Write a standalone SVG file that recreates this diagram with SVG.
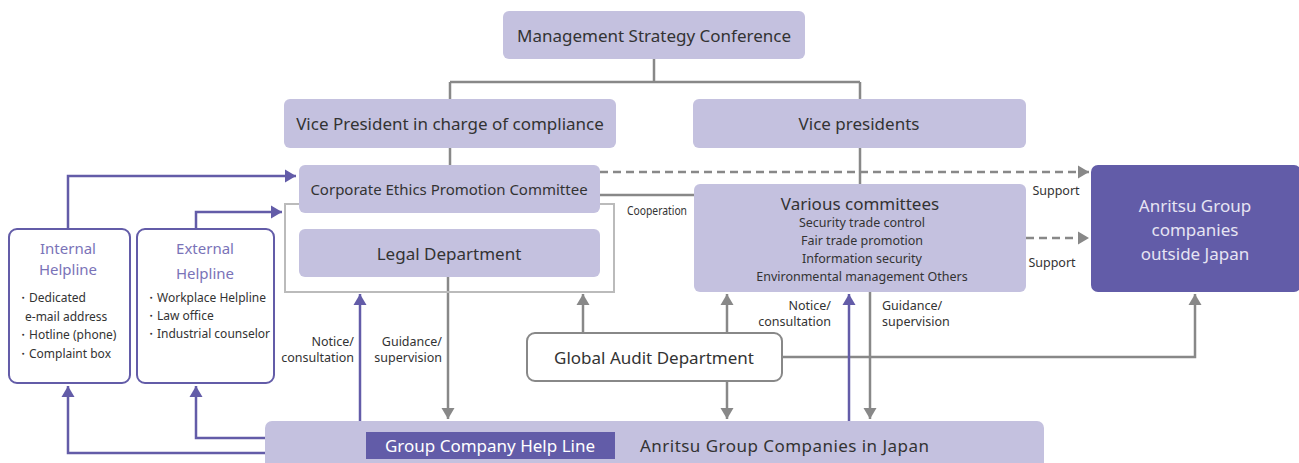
<svg xmlns="http://www.w3.org/2000/svg" width="1299" height="463" viewBox="0 0 1299 463">
<style>
.box{fill:#c4c1df}
.dark{fill:#625ca8}
.t{font-family:"Noto Sans","Liberation Sans",sans-serif;fill:#333;text-anchor:middle}
.big{font-size:17px}
.mid{font-size:15px}
.sm{font-size:12.5px}
.lbl{font-family:"Noto Sans","Liberation Sans",sans-serif;fill:#333;font-size:12.5px}
.g{stroke:#888;stroke-width:2.5;fill:none}
.p{stroke:#635ca8;stroke-width:2.5;fill:none}
.d{stroke:#888;stroke-width:2.5;fill:none;stroke-dasharray:8 5}
.hb{fill:#fff;stroke:#635ca8;stroke-width:2}
.ht{font-family:"Noto Sans","Liberation Sans",sans-serif;fill:#7a73b8;font-size:15px;text-anchor:middle}
.bl{font-family:"Noto Sans","Liberation Sans",sans-serif;fill:#333;font-size:12px}
</style>
<defs>
<marker id="ag" markerUnits="userSpaceOnUse" markerWidth="14" markerHeight="14" refX="11" refY="7" orient="auto"><path d="M0,0.5 L11,7 L0,13.5 z" fill="#888"/></marker>
<marker id="ap" markerUnits="userSpaceOnUse" markerWidth="14" markerHeight="14" refX="11" refY="7" orient="auto"><path d="M0,0.5 L11,7 L0,13.5 z" fill="#635ca8"/></marker>
</defs>

<g id="connectors">
<path class="g" d="M654,59 V82 M450,82 H860 M450,82 V99 M860,82 V99 M450,148 V165 M860,148 V184"/>
<path class="g" d="M600,195 H694"/>
<text class="lbl" x="627" y="215" font-size="12" textLength="60" lengthAdjust="spacingAndGlyphs">Cooperation</text>
<path class="d" d="M600,172 H1089" marker-end="url(#ag)"/>
<text class="lbl" x="1056" y="195" text-anchor="middle">Support</text>
<path class="d" d="M1026,238 H1089" marker-end="url(#ag)"/>
<text class="lbl" x="1052" y="267" text-anchor="middle">Support</text>
<path class="g" d="M782,357 H1195 V294" marker-end="url(#ag)"/>
<path class="g" d="M583,333 V294" marker-end="url(#ag)"/>
<path class="g" d="M727,333 V294" marker-end="url(#ag)"/>
<path class="g" d="M727,381 V419" marker-end="url(#ag)"/>
<path class="g" d="M448,277 V419" marker-end="url(#ag)"/>
<path class="p" d="M360,421 V294" marker-end="url(#ap)"/>
<text class="lbl" x="354" y="346" text-anchor="end">Notice/</text>
<text class="lbl" x="354" y="362" text-anchor="end">consultation</text>
<text class="lbl" x="442" y="346" text-anchor="end">Guidance/</text>
<text class="lbl" x="442" y="362" text-anchor="end">supervision</text>
<path class="p" d="M849,421 V294" marker-end="url(#ap)"/>
<path class="g" d="M870,292 V419" marker-end="url(#ag)"/>
<text class="lbl" x="831" y="310" text-anchor="end">Notice/</text>
<text class="lbl" x="831" y="326" text-anchor="end">consultation</text>
<text class="lbl" x="882" y="310">Guidance/</text>
<text class="lbl" x="882" y="326">supervision</text>
<path class="p" d="M68,229 V176 H296" marker-end="url(#ap)"/>
<path class="p" d="M196,229 V212 H282" marker-end="url(#ap)"/>
<path class="p" d="M265,438 H196 V386" marker-end="url(#ap)"/>
<path class="p" d="M265,453 H68 V386" marker-end="url(#ap)"/>
</g>

<g id="msc"><rect class="box" x="503" y="11" width="302" height="48" rx="6"/><text class="t big" x="654" y="42">Management Strategy Conference</text></g>
<g id="vpc"><rect class="box" x="284" y="99" width="332" height="49" rx="6"/><text class="t big" x="450" y="130">Vice President in charge of compliance</text></g>
<g id="vps"><rect class="box" x="693" y="99" width="333" height="49" rx="6"/><text class="t big" x="859" y="130">Vice presidents</text></g>
<g id="outline"><rect x="285" y="204" width="329" height="88" fill="none" stroke="#bbb" stroke-width="2"/></g>
<g id="cepc"><rect class="box" x="299" y="165" width="301" height="48" rx="6"/><text class="t mid" x="449" y="195">Corporate Ethics Promotion Committee</text></g>
<g id="legal"><rect class="box" x="299" y="229" width="301" height="48" rx="6"/><text class="t big" x="449" y="260">Legal Department</text></g>
<g id="various"><rect class="box" x="694" y="184" width="332" height="108" rx="6"/>
<text class="t big" x="860" y="210">Various committees</text>
<text class="t sm" x="862" y="227">Security trade control</text>
<text class="t sm" x="862" y="245">Fair trade promotion</text>
<text class="t sm" x="862" y="263">Information security</text>
<text class="t sm" x="862" y="281">Environmental management Others</text></g>
<g id="outside"><rect class="dark" x="1091" y="165" width="210" height="127" rx="7"/>
<text class="t big" x="1195" y="212" style="fill:#e6e4f3">Anritsu Group</text>
<text class="t big" x="1195" y="236" style="fill:#e6e4f3">companies</text>
<text class="t big" x="1195" y="260" style="fill:#e6e4f3">outside Japan</text></g>
<g id="audit"><rect x="527" y="333" width="255" height="48" rx="8" fill="#fff" stroke="#888" stroke-width="2"/><text class="t big" x="654" y="364">Global Audit Department</text></g>
<g id="internal"><rect class="hb" x="9" y="229" width="121" height="154" rx="8"/>
<text class="ht" x="68" y="254">Internal</text>
<text class="ht" x="68" y="275">Helpline</text>
<text class="bl" x="17" y="302">・Dedicated</text>
<text class="bl" x="25" y="321">e-mail address</text>
<text class="bl" x="17" y="339">・Hotline (phone)</text>
<text class="bl" x="17" y="358">・Complaint box</text></g>
<g id="external"><rect class="hb" x="137" y="229" width="137" height="154" rx="8"/>
<text class="ht" x="205" y="254">External</text>
<text class="ht" x="205" y="279">Helpline</text>
<text class="bl" x="145" y="302">・Workplace Helpline</text>
<text class="bl" x="145" y="320">・Law office</text>
<text class="bl" x="145" y="338">・Industrial counselor</text></g>
<g id="japan"><rect class="box" x="265" y="421" width="779" height="60" rx="7"/>
<rect class="dark" x="366" y="432" width="249" height="27"/>
<text class="t big" x="490" y="452" style="fill:#fff">Group Company Help Line</text>
<text class="t big" x="640" y="452" style="text-anchor:start" textLength="289" lengthAdjust="spacing">Anritsu Group Companies in Japan</text></g>
</svg>
